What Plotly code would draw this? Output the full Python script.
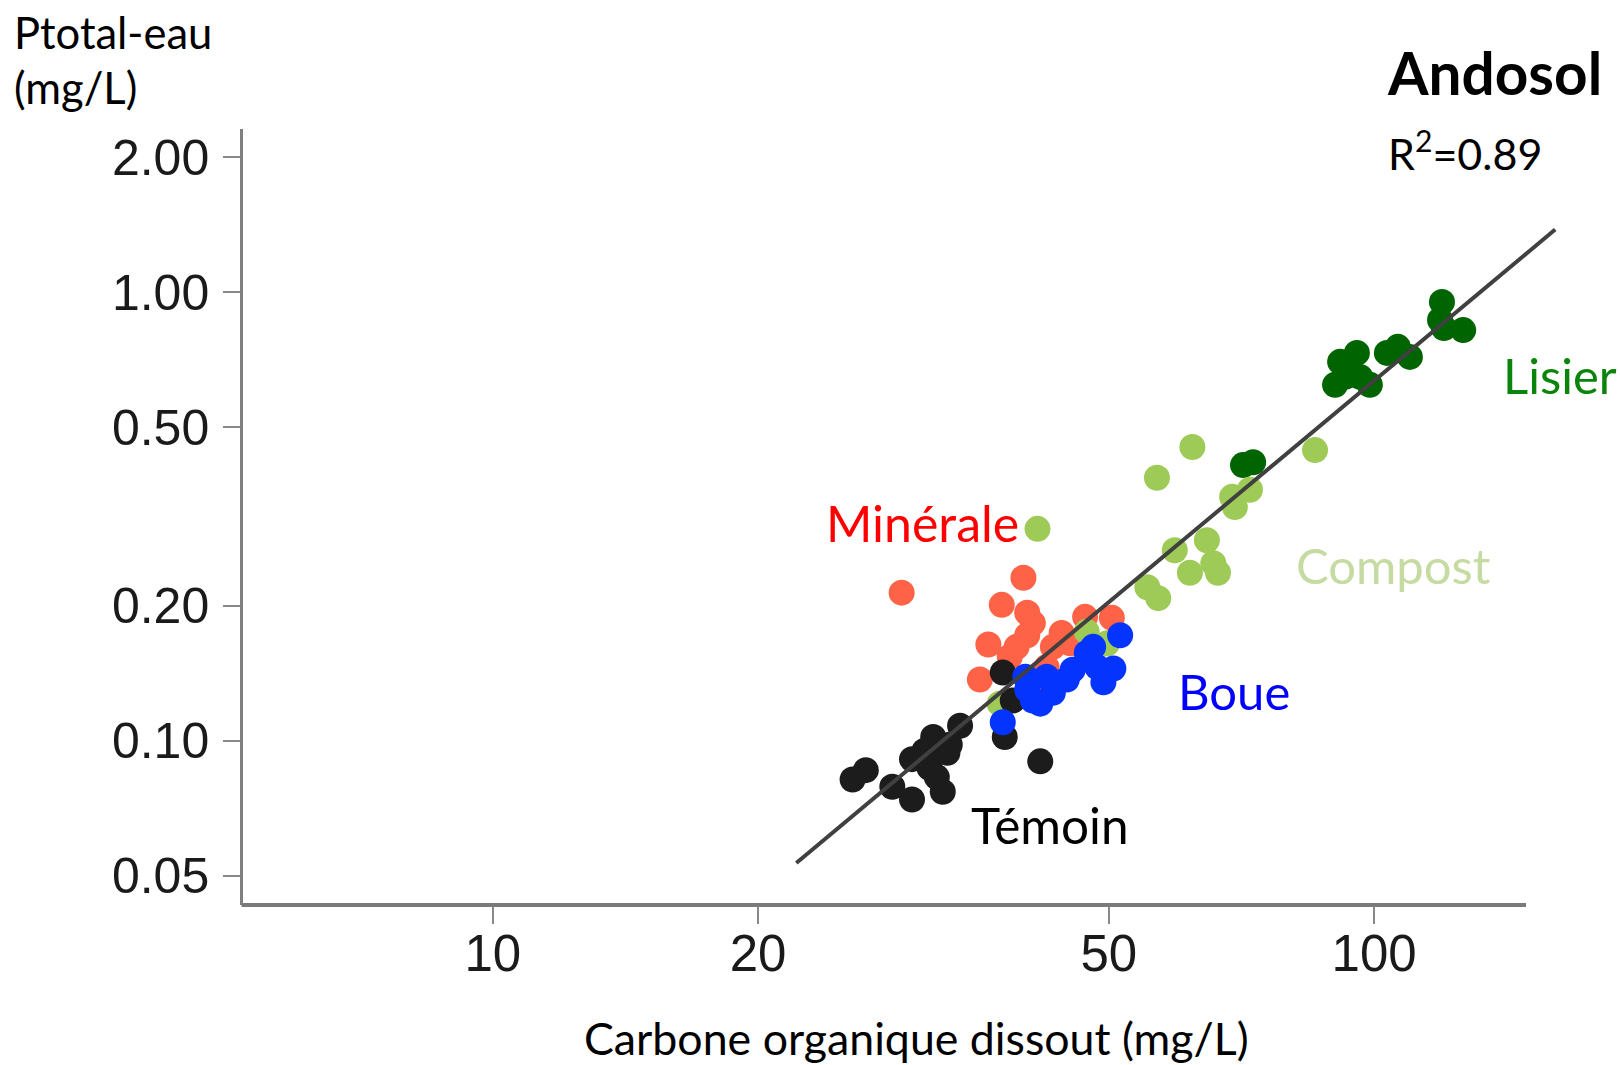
import plotly.graph_objects as go

# ---------------- data ----------------
temoin_x = [25.6, 26.5, 28.4, 29.9, 29.9, 31.6, 31.3, 32.4, 32.8, 33.0, 31.9, 33.9, 37.9, 38.9, 38.1, 41.8, 30.9]
temoin_y = [0.082, 0.086, 0.079, 0.074, 0.091, 0.102, 0.087, 0.077, 0.094, 0.098, 0.083, 0.108, 0.142, 0.123, 0.102, 0.090, 0.095]

minerale_x = [29.1, 40.0, 37.8, 40.4, 41.0, 36.5, 39.3, 38.6, 35.7, 44.2, 43.2, 47.0, 50.4, 45.2, 42.5, 41.8, 40.4]
minerale_y = [0.214, 0.231, 0.201, 0.193, 0.183, 0.164, 0.162, 0.154, 0.137, 0.174, 0.162, 0.189, 0.188, 0.165, 0.146, 0.137, 0.172]

boue_x = [37.9, 40.2, 40.4, 41.8, 43.2, 45.5, 44.8, 47.2, 48.5, 49.3, 50.6, 51.5, 48.0, 42.5, 41.0]
boue_y = [0.110, 0.139, 0.130, 0.121, 0.128, 0.144, 0.137, 0.157, 0.146, 0.135, 0.145, 0.172, 0.162, 0.139, 0.123]

compost_x = [41.5, 62.2, 56.7, 85.7, 72.3, 69.0, 69.5, 64.6, 59.4, 61.8, 65.7, 66.5, 55.3, 56.9, 47.2, 49.8, 37.6]
compost_y = [0.297, 0.452, 0.386, 0.445, 0.363, 0.350, 0.332, 0.280, 0.266, 0.237, 0.249, 0.237, 0.220, 0.208, 0.175, 0.165, 0.121]

lisier_x = [119.4, 118.8, 120.0, 126.2, 106.4, 103.4, 109.8, 95.6, 91.5, 93.9, 90.3, 98.9, 96.4, 92.7, 71.0, 72.9]
lisier_y = [0.952, 0.868, 0.833, 0.824, 0.756, 0.733, 0.718, 0.733, 0.700, 0.671, 0.622, 0.622, 0.648, 0.648, 0.412, 0.418]

fit_x = [22.1, 160.5]
fit_y = [0.0534, 1.381]

x_ticks = [10, 20, 50, 100]
x_ticklabels = ["10", "20", "50", "100"]
y_ticks = [0.05, 0.1, 0.2, 0.5, 1, 2]
y_ticklabels = ["0.05", "0.10", "0.20", "0.50", "1.00", "2.00"]

# ---------------- layout geometry ----------------
W, H = 1620, 1065
L, R, T, B = 243, 1565, 129, 905


def px(xp):
    return (xp - L) / (R - L)


def py(yp):
    return (B - yp) / (B - T)


TXT = "Lato, Carlito, 'Open Sans', sans-serif"
NUM = "'Liberation Sans', Arial, sans-serif"

fig = go.Figure()

series = [
    ("Lisier", lisier_x, lisier_y, "#006400"),
    ("Minérale", minerale_x, minerale_y, "#ff6347"),
    ("Compost", compost_x, compost_y, "#9ecb58"),
    ("Témoin", temoin_x, temoin_y, "#1c1c1c"),
    ("Boue", boue_x, boue_y, "#0634ff"),
]
for name, xs, ys, col in series:
    fig.add_trace(go.Scatter(
        x=xs, y=ys, mode="markers", name=name,
        marker=dict(size=26, color=col, line=dict(width=0)),
        showlegend=False,
    ))

fig.add_trace(go.Scatter(
    x=fit_x, y=fit_y, mode="lines", name="fit",
    line=dict(color="#404040", width=4), showlegend=False,
))

fig.update_layout(
    width=W, height=H,
    margin=dict(l=L, r=W - R, t=T, b=H - B, pad=0),
    paper_bgcolor="white", plot_bgcolor="white",
    xaxis=dict(
        type="log", range=[0.71655, 2.21661],
        tickmode="array", tickvals=x_ticks, ticktext=x_ticklabels,
        ticks="outside", ticklen=18, tickwidth=1.5, tickcolor="#888888",
        showline=False, showgrid=False, zeroline=False,
        ticklabelstandoff=-14,
        tickfont=dict(family=NUM, size=51, color="#1a1a1a"),
    ),
    yaxis=dict(
        type="log", range=[-1.36619, 0.36441],
        tickmode="array", tickvals=y_ticks, ticktext=y_ticklabels,
        ticks="outside", ticklen=17, tickwidth=2, tickcolor="#888888",
        showline=True, linecolor="#808080", linewidth=2.5,
        showgrid=False, zeroline=False, ticklabelstandoff=4,
        tickfont=dict(family=NUM, size=50, color="#1a1a1a"),
    ),
    shapes=[dict(
        type="line", xref="paper", yref="paper",
        x0=px(241.5), x1=px(1526), y0=py(905), y1=py(905),
        line=dict(color="#7a7a7a", width=4),
    )],
)

ann = [
    ("Ptotal-eau", 12, 32, "left", 43.5, "#000000", False),
    ("(mg/L)", 12, 87, "left", 43.5, "#000000", False),
    ("Andosol", 1385, 72, "left", 58.5, "#000000", True),
    ("R<sup>2</sup>=0.89", 1386, 150, "left", 43, "#000000", False),
    ("Minérale", 922, 523, "center", 50, "#ff0000", False),
    ("Témoin", 1050, 825, "center", 49.5, "#000000", False),
    ("Boue", 1234, 691, "center", 49, "#0000ff", False),
    ("Compost", 1393, 565, "center", 49, "#c5dba2", False),
    ("Lisier", 1560, 375, "center", 49, "#0a840a", False),
    ("Carbone organique dissout (mg/L)", 916, 1038, "center", 44.7, "#000000", False),
]
for text, xp, yp, xa, size, col, bold in ann:
    fig.add_annotation(
        text=f"<b>{text}</b>" if bold else text,
        xref="paper", yref="paper", x=px(xp), y=py(yp),
        xanchor=xa, yanchor="middle", showarrow=False,
        font=dict(family=TXT, size=size, color=col),
    )

fig.write_html("out.html")
